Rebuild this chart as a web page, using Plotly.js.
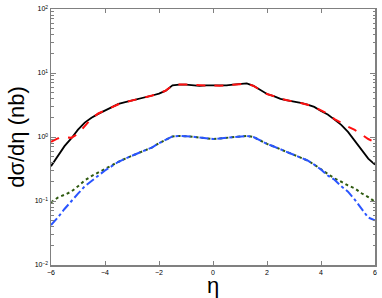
<!DOCTYPE html>
<html>
<head>
<meta charset="utf-8">
<script src="https://cdn.plot.ly/plotly-3.0.1.min.js"></script>
<style>html,body{margin:0;padding:0;background:#fff;}#chart{width:382px;height:298px;}</style>
</head>
<body>
<div id="chart"></div>
<script>
const eta = [-6,-5.75,-5.5,-5.25,-5,-4.75,-4.5,-4.25,-4,-3.75,-3.5,-3.25,-3,-2.75,-2.5,-2.25,-2,-1.75,-1.5,-1.25,-1,-0.75,-0.5,-0.25,0,0.25,0.5,0.75,1,1.25,1.5,1.75,2,2.25,2.5,2.75,3,3.25,3.5,3.75,4,4.25,4.5,4.75,5,5.25,5.5,5.75,6];
const blackSolid = [0.35,0.5,0.72,0.95,1.3,1.68,2.0,2.3,2.62,2.95,3.3,3.5,3.7,3.9,4.15,4.45,4.75,5.3,6.4,6.6,6.6,6.5,6.3,6.4,6.4,6.3,6.4,6.6,6.7,6.9,6.3,5.4,4.7,4.35,3.95,3.75,3.6,3.4,3.2,2.95,2.55,2.25,1.87,1.55,1.2,0.88,0.62,0.46,0.37];
const redDashed = [0.84,0.95,1.0,0.97,1.12,1.5,1.95,2.33,2.62,2.95,3.25,3.5,3.7,3.9,4.15,4.45,4.8,5.3,6.4,6.6,6.6,6.5,6.3,6.35,6.4,6.3,6.4,6.6,6.7,6.8,6.3,5.4,4.7,4.35,3.95,3.75,3.6,3.4,3.2,2.95,2.6,2.3,1.9,1.65,1.45,1.29,1.1,0.93,0.83];
const greenDotted = [0.095,0.113,0.125,0.14,0.17,0.21,0.245,0.28,0.32,0.36,0.41,0.46,0.51,0.56,0.62,0.69,0.8,0.9,1.02,1.04,1.03,1.01,0.98,0.95,0.93,0.95,0.97,1.0,1.02,1.04,1.0,0.88,0.78,0.71,0.64,0.58,0.52,0.47,0.43,0.37,0.31,0.26,0.225,0.2,0.175,0.158,0.132,0.115,0.097];
const blueDashDot = [0.042,0.055,0.075,0.1,0.13,0.17,0.205,0.25,0.3,0.35,0.41,0.46,0.51,0.56,0.62,0.69,0.8,0.9,1.02,1.04,1.03,1.01,0.98,0.95,0.93,0.95,0.97,1.0,1.02,1.04,1.0,0.88,0.78,0.71,0.64,0.58,0.52,0.47,0.43,0.37,0.31,0.25,0.215,0.17,0.14,0.105,0.077,0.055,0.05];
const xTicks = [-6,-4,-2,0,2,4,6];
const xTickText = ['\u22126','\u22124','\u22122','0','2','4','6'];
const yTicks = [0.01,0.1,1,10,100];
const yTickText = ['10<sup>\u22122</sup>','10<sup>\u22121</sup>','10<sup>0</sup>','10<sup>1</sup>','10<sup>2</sup>'];

const traces = [
  {x: eta, y: greenDotted, mode:'lines', line:{color:'#2f5a10', width:2, dash:'dot'}},
  {x: eta, y: blueDashDot, mode:'lines', line:{color:'#2a55ff', width:2, dash:'dashdot'}},
  {x: eta, y: blackSolid, mode:'lines', line:{color:'#000000', width:1.8}},
  {x: eta, y: redDashed, mode:'lines', line:{color:'#ff1010', width:2, dash:'dash'}}
];
const axCol = '#808080';
const layout = {
  width:382, height:298,
  margin:{l:51, r:7, t:9, b:33},
  showlegend:false,
  paper_bgcolor:'#fff', plot_bgcolor:'#fff',
  font:{family:'Liberation Sans, Arial, sans-serif', color:'#000'},
  xaxis:{
    range:[-6,6], tickvals:xTicks, ticktext:xTickText,
    ticks:'inside', ticklen:4, tickcolor:axCol, tickwidth:1,
    showline:true, linecolor:axCol, linewidth:1.5, mirror:'ticks',
    showgrid:false, zeroline:false,
    tickfont:{size:7, color:'#000'},
    title:{text:'\u03b7', font:{size:22}, standoff:9}
  },
  yaxis:{
    type:'log', range:[-2,2], tickvals:yTicks, ticktext:yTickText,
    ticks:'inside', ticklen:5, tickcolor:axCol, tickwidth:1,
    minor:{dtick:'D1', ticks:'inside', ticklen:2.5, tickcolor:axCol, tickwidth:1, showgrid:false},
    showline:true, linecolor:axCol, linewidth:1.5, mirror:'ticks',
    showgrid:false, zeroline:false,
    tickfont:{size:7, color:'#000'},
    title:{text:'d\u03c3/d\u03b7 (nb)', font:{size:22}, standoff:4}
  }
};
Plotly.newPlot('chart', traces, layout, {displayModeBar:false, staticPlot:true});
</script>
</body>
</html>
